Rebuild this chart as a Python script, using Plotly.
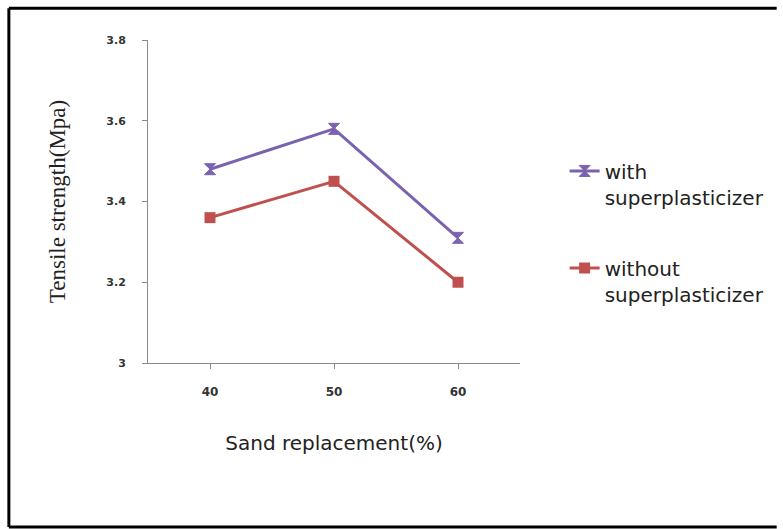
import plotly.graph_objects as go

# Tensile strength vs. sand replacement level
sand_replacement = ["40", "50", "60"]
with_sp = [3.48, 3.58, 3.31]
without_sp = [3.36, 3.45, 3.20]
y_ticks = [3.0, 3.2, 3.4, 3.6, 3.8]
y_tick_labels = ["3", "3.2", "3.4", "3.6", "3.8"]

PURPLE = "#7B62B0"
RED = "#C0504D"
AXIS_GRAY = "#8A8A8A"
TEXT = "#222222"

fig = go.Figure()

fig.add_trace(go.Scatter(
    x=sand_replacement, y=with_sp,
    name="with<br>superplasticizer",
    legendgroup="a",
    mode="lines+markers",
    line=dict(color=PURPLE, width=3),
    marker=dict(symbol="hourglass", size=11, color=PURPLE,
                line=dict(color=PURPLE, width=1)),
))
fig.add_trace(go.Scatter(
    x=sand_replacement, y=without_sp,
    name="without<br>superplasticizer",
    legendgroup="b",
    mode="lines+markers",
    line=dict(color=RED, width=3),
    marker=dict(symbol="square", size=11, color=RED),
))

# black frame on the left, top and bottom of the figure
frame = dict(color="black", width=3)
fig.add_shape(type="line", xref="paper", yref="paper",
              x0=-0.374, x1=-0.374, y0=-0.508, y1=1.098, line=frame)
fig.add_shape(type="line", xref="paper", yref="paper",
              x0=-0.374, x1=1.69, y0=1.098, y1=1.098, line=frame)
fig.add_shape(type="line", xref="paper", yref="paper",
              x0=-0.374, x1=1.69, y0=-0.508, y1=-0.508, line=frame)

fig.update_xaxes(
    type="category",
    range=[-0.5, 2.5],
    showline=True, linecolor=AXIS_GRAY, linewidth=1,
    ticks="outside", ticklen=5, tickcolor=AXIS_GRAY,
    ticklabelstandoff=13,
    showgrid=False, zeroline=False,
    tickfont=dict(family="DejaVu Sans", size=12, color="#333333", weight="bold"),
    title=dict(text="Sand replacement(%)", standoff=37,
               font=dict(family="DejaVu Sans", size=20, color=TEXT)),
)
fig.update_yaxes(
    range=[3.0, 3.8],
    tickvals=y_ticks, ticktext=y_tick_labels,
    showline=True, linecolor=AXIS_GRAY, linewidth=1,
    ticks="outside", ticklen=5, tickcolor=AXIS_GRAY,
    ticklabelstandoff=14,
    showgrid=False, zeroline=False,
    tickfont=dict(family="DejaVu Sans", size=11, color="#333333", weight="bold"),
    title=dict(text="Tensile strength(Mpa)", standoff=34,
               font=dict(family="Liberation Serif", size=23, color=TEXT)),
)

fig.update_layout(
    width=783, height=529,
    margin=dict(l=148, r=263, t=40, b=166),
    paper_bgcolor="white", plot_bgcolor="white",
    showlegend=True,
    legend=dict(
        x=1.12, y=0.655, xanchor="left", yanchor="top",
        valign="top", tracegroupgap=42,
        font=dict(family="DejaVu Sans", size=20, color=TEXT),
        itemwidth=30,
    ),
)

fig.write_html("out.html")
